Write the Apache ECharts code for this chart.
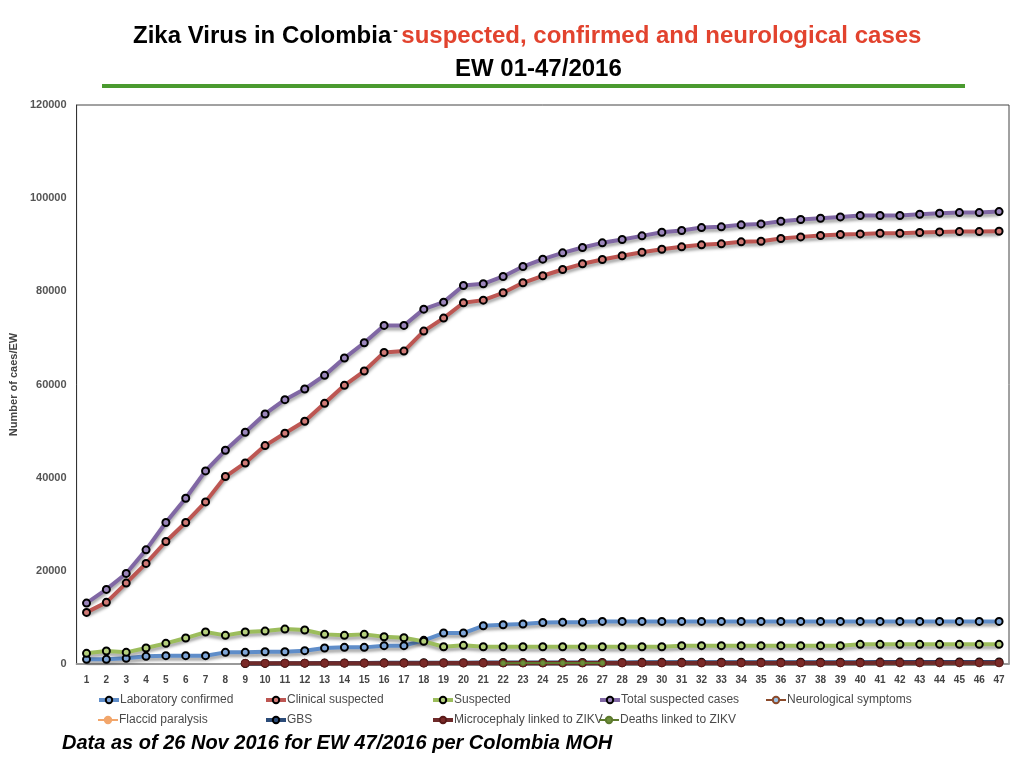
<!DOCTYPE html>
<html>
<head>
<meta charset="utf-8">
<title>Zika Virus in Colombia</title>
<script src="https://cdn.jsdelivr.net/npm/echarts@6/dist/echarts.min.js"></script>
<style>
  html, body { margin: 0; padding: 0; background: #fff; }
  #chart { width: 1024px; height: 768px; }
</style>
</head>
<body>
<div id="chart"></div>
<script>
// epidemiological weeks 1..47
const weeks = []
for (let i = 1; i <= 47; i++) weeks.push(String(i))

const labConfirmed = [1000, 1000, 1220, 1650, 1790, 1790, 1790, 2500, 2500, 2640,
  2640, 2860, 3430, 3570, 3570, 3930, 3930, 5080, 6650, 6650,
  8210, 8430, 8580, 8900, 8980, 8980, 9150, 9150, 9150, 9150,
  9150, 9150, 9150, 9150, 9150, 9150, 9150, 9150, 9150, 9150,
  9150, 9150, 9150, 9150, 9150, 9150, 9150]

const clinicalSuspected = [11080, 13230, 17370, 21590, 26300, 30370, 34800, 40240, 43160, 46880,
  49530, 52100, 55960, 59820, 62890, 66890, 67170, 71460, 74250, 77550,
  78110, 79690, 81840, 83340, 84690, 85910, 86830, 87630, 88400, 89040,
  89550, 89980, 90200, 90620, 90760, 91330, 91690, 91980, 92190, 92330,
  92480, 92480, 92620, 92760, 92830, 92830, 92900]

const suspected = [2290, 2790, 2500, 3430, 4430, 5570, 6860, 6150, 6860, 7070,
  7500, 7290, 6360, 6150, 6360, 5850, 5640, 4860, 3710, 4000,
  3710, 3710, 3710, 3710, 3710, 3710, 3710, 3710, 3710, 3710,
  3930, 3930, 3930, 3930, 3930, 3930, 3930, 3930, 3930, 4220,
  4220, 4220, 4220, 4220, 4220, 4220, 4220]

const totalSuspected = [13080, 16010, 19440, 24510, 30370, 35590, 41450, 45880, 49740, 53670,
  56740, 59030, 61960, 65680, 68960, 72680, 72680, 76180, 77680, 81260,
  81620, 83190, 85330, 86900, 88260, 89400, 90410, 91120, 91910, 92690,
  93050, 93690, 93840, 94270, 94480, 95050, 95410, 95690, 95980, 96270,
  96270, 96270, 96550, 96760, 96910, 96910, 97120]

// small series, lying on the axis ('-' = no data)
const neurological = ['-', '-', '-', '-', '-', '-', '-', '-', 120, 150,
  170, 190, 210, 230, 240, 260, 270, 280, 290, 300,
  310, 320, 330, 330, 340, 340, 350, 350, 360, 360,
  360, 370, 370, 370, 380, 380, 380, 380, 390, 390,
  390, 390, 400, 400, 400, 400, 400]

const flaccidParalysis = ['-', '-', '-', '-', '-', '-', '-', '-', 10, 10,
  12, 12, 15, 15, 18, 18, 20, 20, 20, 22,
  22, 22, 24, 24, 24, 25, 25, 25, 26, 26,
  26, 26, 27, 27, 27, 28, 28, 28, 28, 29,
  29, 29, 30, 30, 30, 30, 30]

const gbs = ['-', '-', '-', '-', '-', '-', '-', '-', 100, 130,
  160, 180, 200, 220, 230, 250, 260, 270, 280, 290,
  300, 310, 320, 320, 330, 330, 340, 340, 350, 350,
  360, 360, 370, 370, 380, 380, 390, 390, 400, 400,
  410, 410, 420, 420, 420, 420, 420]

const microcephaly = ['-', '-', '-', '-', '-', '-', '-', '-', 150, 150,
  160, 160, 170, 170, 170, 180, 180, 180, 190, 190,
  190, 200, 200, 200, 210, 210, 210, 210, 220, 220,
  220, 220, 230, 230, 230, 230, 240, 240, 240, 240,
  250, 250, 250, 250, 250, 250, 250]

const deaths = ['-', '-', '-', '-', '-', '-', '-', '-', '-', '-',
  '-', '-', '-', '-', '-', '-', '-', '-', '-', '-',
  '-', 180, 190, 200, 200, 210, 210, '-', '-', '-',
  '-', '-', '-', '-', '-', '-', '-', '-', '-', '-',
  '-', '-', '-', '-', '-', '-', '-']

const yTicks = [0, 20000, 40000, 60000, 80000, 100000, 120000]

const chart = echarts.init(document.getElementById('chart'))

// thick line with black ringed markers
function bigLine (name, data, color, fill, z) {
  return {
    name,
    type: 'line',
    data,
    z,
    symbol: 'circle',
    symbolSize: 7,
    itemStyle: { color: fill, borderColor: '#000', borderWidth: 2 },
    lineStyle: {
      color,
      width: 4,
      shadowColor: 'rgba(0,0,0,0.35)',
      shadowBlur: 3,
      shadowOffsetY: 3
    },
    emphasis: { disabled: true }
  }
}

// thin line with small dots
function thinLine (name, data, color, fill, z) {
  return {
    name,
    type: 'line',
    data,
    z,
    symbol: 'circle',
    symbolSize: 5,
    itemStyle: { color: fill, borderColor: color, borderWidth: 1 },
    lineStyle: { color, width: 2 },
    emphasis: { disabled: true }
  }
}

const series = [
  bigLine('Laboratory confirmed', labConfirmed, '#5f8dc9', '#7fa6d8', 3),
  bigLine('Clinical suspected', clinicalSuspected, '#bd5652', '#d07a76', 3),
  bigLine('Suspected', suspected, '#9cbd5c', '#b5d07d', 3),
  bigLine('Total suspected cases', totalSuspected, '#8067a4', '#9b86bb', 3),
  thinLine('Neurological symptoms', neurological, '#8b4a2b', '#9cc3e6', 2),
  thinLine('Flaccid paralysis', flaccidParalysis, '#f2a66b', '#f2a66b', 2),
  bigLine('GBS', gbs, '#2b4b78', '#2b4b78', 2),
  {
    name: 'Microcephaly linked to ZIKV',
    type: 'line',
    data: microcephaly,
    z: 3,
    symbol: 'circle',
    symbolSize: 8,
    itemStyle: { color: '#7a2a28', borderColor: '#5a1a18', borderWidth: 1 },
    lineStyle: {
      color: '#6e2a2a',
      width: 4,
      shadowColor: 'rgba(0,0,0,0.35)',
      shadowBlur: 3,
      shadowOffsetY: 3
    },
    emphasis: { disabled: true }
  },
  thinLine('Deaths linked to ZIKV', deaths, '#5d7a2e', '#6e8f3a', 4)
]

// legend laid out in a 5 column grid, one legend per item
const legendCols = [97, 264, 431, 598, 765]
const legendRows = [694, 714]
const legends = series.map((s, i) => ({
  data: [s.name],
  left: legendCols[i % 5],
  top: legendRows[Math.floor(i / 5)],
  padding: 0,
  itemWidth: 20,
  itemHeight: 8,
  selectedMode: false,
  lineStyle: { width: s.lineStyle.width, shadowBlur: 0, shadowOffsetY: 0 },
  textStyle: {
    fontFamily: 'Liberation Sans',
    fontSize: 12,
    color: '#4a4a4a',
    padding: [0, 0, 0, -4]
  }
}))

const option = {
  animation: false,
  backgroundColor: '#fff',
  textStyle: { fontFamily: 'Liberation Sans' },
  grid: {
    left: 75,
    right: 15,
    top: 105,
    bottom: 104,
    show: true,
    borderColor: '#444',
    borderWidth: 1
  },
  legend: legends,
  xAxis: {
    type: 'category',
    data: weeks,
    boundaryGap: true,
    axisLine: { lineStyle: { color: '#999', width: 2 } },
    axisTick: { show: false },
    axisLabel: {
      interval: 0,
      margin: 11,
      fontSize: 10,
      fontWeight: 'bold',
      color: '#444'
    }
  },
  yAxis: {
    type: 'value',
    min: yTicks[0],
    max: yTicks[yTicks.length - 1],
    interval: yTicks[1] - yTicks[0],
    name: 'Number of caes/EW',
    nameLocation: 'middle',
    nameRotate: 90,
    nameGap: 55,
    nameTextStyle: { fontSize: 11, fontWeight: 'bold', color: '#444' },
    splitLine: { show: false },
    axisTick: { show: false },
    axisLine: { show: true, lineStyle: { color: '#333', width: 1 } },
    axisLabel: {
      margin: 10,
      fontSize: 11,
      fontWeight: 'bold',
      color: '#555',
      formatter: v => String(v)
    }
  },
  graphic: [
    {
      type: 'text',
      left: 133,
      top: 24,
      style: {
        text: '{a|Zika Virus in Colombia}{d|-} {b|suspected, confirmed and neurological cases}',
        rich: {
          a: { fontFamily: 'Liberation Sans', fontWeight: 'bold', fontSize: 24, fill: '#000' },
          d: { fontFamily: 'Liberation Sans', fontWeight: 'bold', fontSize: 14, fill: '#000', verticalAlign: 'top', padding: [0, 0, 6, 2] },
          b: { fontFamily: 'Liberation Sans', fontWeight: 'bold', fontSize: 24, fill: '#e2432e' }
        }
      }
    },
    {
      type: 'text',
      left: 455,
      top: 57,
      style: {
        text: 'EW 01-47/2016',
        fontFamily: 'Liberation Sans',
        fontWeight: 'bold',
        fontSize: 24,
        fill: '#000'
      }
    },
    {
      type: 'rect',
      shape: { x: 102, y: 84, width: 863, height: 4 },
      style: { fill: '#4a9a2f' }
    },
    {
      type: 'text',
      left: 62,
      top: 733,
      style: {
        text: 'Data as of 26 Nov 2016 for EW 47/2016 per Colombia MOH',
        fontFamily: 'Liberation Sans',
        fontWeight: 'bold',
        fontStyle: 'italic',
        fontSize: 20,
        fill: '#000'
      }
    }
  ],
  series
}

option && chart.setOption(option)
</script>
</body>
</html>
